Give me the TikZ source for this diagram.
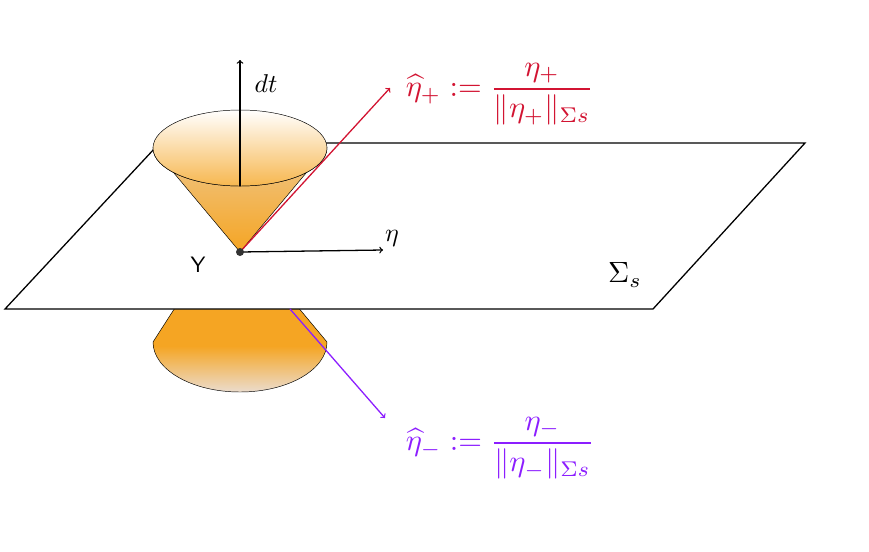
\documentclass[tikz,border=0pt]{standalone}
\usepackage{amsmath}
\begin{document}
\begin{tikzpicture}[x=0.03cm,y=-0.03cm,
  redc/.style={color={rgb,255:red,210;green,20;blue,50}},
  purc/.style={color={rgb,255:red,140;green,30;blue,255}},
  arr/.style={->,line width=1.1pt,line cap=round},
  every node/.style={scale=2}]
\useasboundingbox (0,0) rectangle (869,551);
\definecolor{org}{RGB}{245,165,35}
\definecolor{lite}{RGB}{235,220,205}
% lower cone
\path[draw,top color=org,bottom color=lite,middle color=org] (180,300) -- (153,342) arc[start angle=180,end angle=0,x radius=87,y radius=50] -- (292,300) -- cycle;
% plane
\coordinate (p1) at (5,309); \coordinate (p2) at (653,309);
\coordinate (p3) at (805,143); \coordinate (p4) at (300,143);
\draw[fill=white,line width=1.1pt] (p1) -- (p2) -- (p3) -- (p4) -- (155,148) -- cycle;
% upper cone
\coordinate (Y) at (240,252);
\path[draw,top color=lite!60!org,bottom color=org] (Y) -- (153,148) arc[start angle=180,end angle=0,x radius=87,y radius=38] -- cycle;
\draw[top color=white,bottom color=org!80] (240,148) ellipse[x radius=87,y radius=38];
\coordinate (dtb) at (240,186); \coordinate (dtt) at (240,60);
\draw[arr] (dtb) -- (dtt);
\node[scale=1.1] (dt) at (266,84) {$dt$};
\coordinate (etaend) at (383,250);
\draw[arr] (Y) -- (etaend);
\node[scale=1.1] (eta) at (392,238) {$\eta$};
\coordinate (rend) at (390,88);
\draw[arr,redc] (Y) -- (rend);
\coordinate (pst) at (290,309); \coordinate (pend) at (385,418);
\draw[arr,purc] (pst) -- (pend);
\fill[black!80] (Y) circle (4);
\node[scale=0.95] (ylab) at (198,265) {\sffamily Y};
\node[scale=1.25] (sig) at (625,275) {$\Sigma_s$};
\node[redc,anchor=west,scale=1.3] (fp) at (395,94) {$\widehat{\eta}_+ := \dfrac{\eta_+}{\|\eta_+\|_{\Sigma s}}$};
\node[purc,anchor=west,scale=1.3] (fm) at (395,448) {$\widehat{\eta}_- := \dfrac{\eta_-}{\|\eta_-\|_{\Sigma s}}$};
\end{tikzpicture}
\end{document}
